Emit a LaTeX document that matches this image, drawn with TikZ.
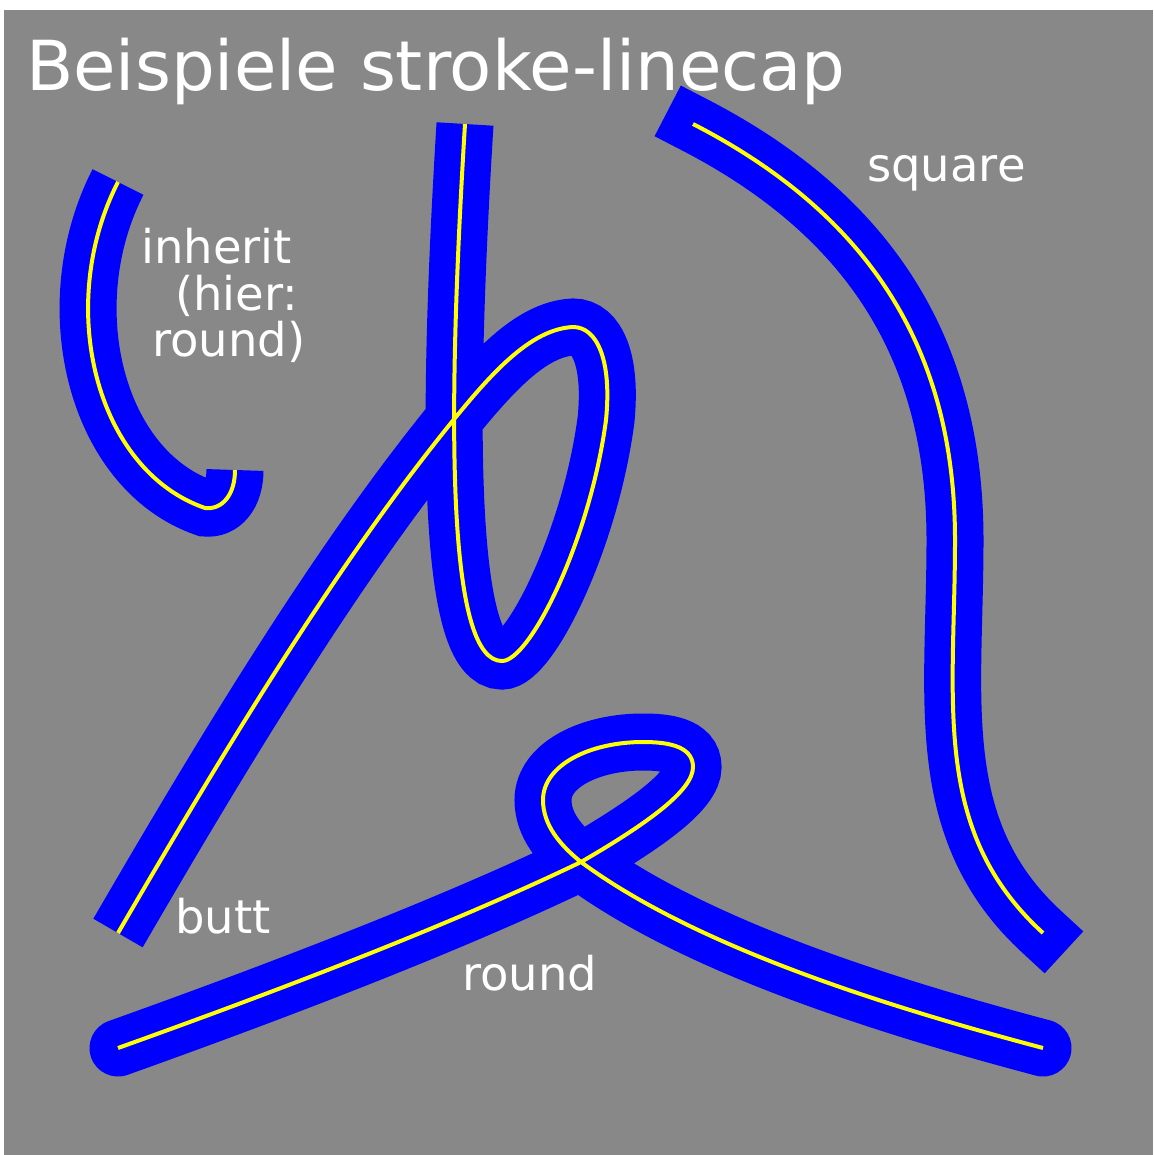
\documentclass[tikz,border=0pt]{standalone}
\usepackage{fontspec}
\setmainfont{DejaVu Sans}
\definecolor{bggray}{RGB}{136,136,136}
\definecolor{capblue}{RGB}{0,0,255}
\definecolor{capyellow}{RGB}{255,255,0}
\tikzset{
  bluebase/.style={draw=capblue, line width=57pt},
  core/.style={draw=capyellow, line width=4pt, line cap=butt},
  capbutt/.style={core, preaction={bluebase, line cap=butt}},
  capround/.style={core, preaction={bluebase, line cap=round}},
  caprect/.style={core, preaction={bluebase, line cap=rect}},
  title/.style={text=white, anchor=base west, inner sep=0pt, font=\fontsize{69}{80}\selectfont},
  label/.style={text=white, anchor=base west, inner sep=0pt, font=\fontsize{46.5}{54}\selectfont}
}
\begin{document}
\begin{tikzpicture}[x=1pt,y=-1pt]
\useasboundingbox (0,0) rectangle (1153,1155);
\fill[white] (0,0) rectangle (1153,1155);
\fill[bggray] (4,10) rectangle (1153,1155);

% inherit (rendered with butt ends)
\draw[capbutt] (118,182) .. controls (55,305) and (95,470) .. (205,508)
  .. controls (222,510) and (235,495) .. (235,470);

% butt
\draw[capbutt] (465,124) .. controls (445,450) and (450,661) .. (502,661)
  .. controls (530,661) and (590,540) .. (606,420)
  .. controls (612,360) and (597,327) .. (573,327)
  .. controls (530,329) and (490,375) .. (451,423)
  .. controls (340,560) and (230,740) .. (118,933);

% square
\draw[caprect] (693,124) .. controls (870,215) and (955,350) .. (955,540)
  .. controls (955,700) and (930,830) .. (1043,933);

% round
\draw[capround] (118,1048) .. controls (280,990) and (450,925) .. (581,862)
  .. controls (650,822) and (693,790) .. (693,767)
  .. controls (693,745) and (665,742) .. (643,742)
  .. controls (590,742) and (543,765) .. (543,800)
  .. controls (543,825) and (560,845) .. (581,862)
  .. controls (700,950) and (900,1010) .. (1043,1048);

\node[title] (ttl) at (26,91) {Beispiele stroke-linecap};
\node[label] (lsquare) at (867,182) {square};
\node[label] (linh1) at (141,264) {inherit};
\node[label] (linh2) at (175,310) {(hier:};
\node[label] (linh3) at (152,356) {round)};
\node[label] (lbutt) at (175,933) {butt};
\node[label] (lround) at (462,990) {round};
\end{tikzpicture}
\end{document}
